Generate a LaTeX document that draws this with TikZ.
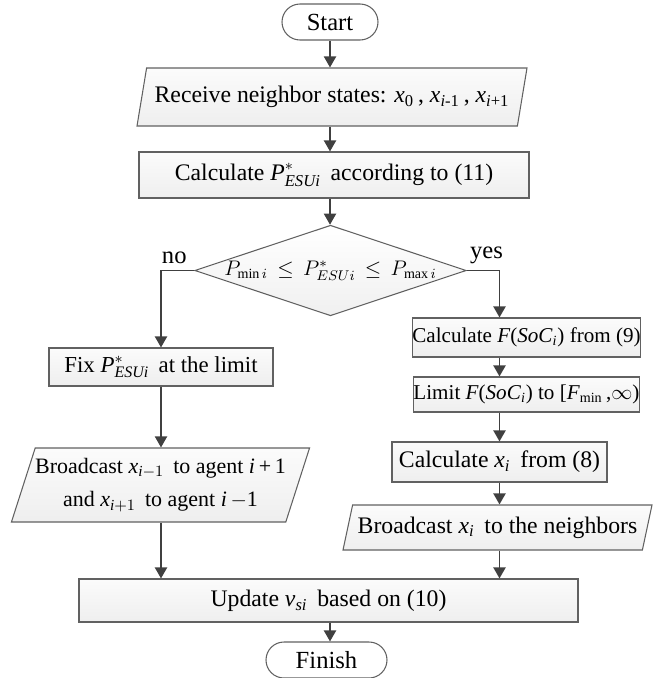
\documentclass[tikz,border=0pt]{standalone}
\usepackage{amsmath}
\usepackage{fontspec}
\setmainfont{Liberation Serif}
\usetikzlibrary{shapes.geometric,shapes.misc,arrows.meta}

\newcommand{\pesu}{$\textit{P}^{*}_{\textit{ESUi}}$\,}
\newcommand{\vsub}[2]{\textit{#1}$_{\text{#2}}$}

\begin{document}
\begin{tikzpicture}[font=\fontsize{13}{15}\selectfont,
  line/.style={draw=black!75, line width=1.1pt, -{Triangle[length=2.2mm,width=2.4mm]}},
  proc/.style={rectangle, draw=black!62, line width=0.6pt, top color=gray!3, bottom color=gray!13, inner sep=0pt},
  io/.style={proc, trapezium, trapezium left angle=66, trapezium right angle=114, trapezium stretches body},
  term/.style={rounded rectangle, draw=black!62, line width=0.6pt, fill=white, inner sep=0pt, font=\fontsize{14}{16}\selectfont},
  dec/.style={diamond, draw=black!62, line width=0.6pt, top color=white, bottom color=gray!12, inner sep=0pt, aspect=3},
  small/.style={font=\fontsize{12}{14}\selectfont}]
\useasboundingbox (0,0) rectangle (13.1,-13.56);

\node[term, minimum width=1.92cm, minimum height=0.72cm] (start) at (6.6,-0.44) {Start};
\node[io, minimum width=7.8cm, minimum height=1.16cm, font=\fontsize{13.5}{16}\selectfont] (recv) at (6.64,-1.94)
  {Receive neighbor states: \vsub{x}{0}\,, \vsub{x}{\textit{i}-1}\,, \vsub{x}{\textit{i}+1}};
\node[proc, minimum width=7.8cm, minimum height=0.92cm, font=\fontsize{13.5}{16}\selectfont] (calc) at (6.68,-3.5)
  {Calculate \pesu{} according to (11)};
\node[dec, small, minimum width=5.3cm, minimum height=1.78cm] (cond) at (6.61,-5.41)
  {$P_{\min i}\,\le\,P^{*}_{ESUi}\,\le\,P_{\max i}$};

\node[proc, minimum width=4.48cm, minimum height=0.76cm] (fix) at (3.22,-7.34) {Fix \pesu{} at the limit};
\node[io, minimum width=5.9cm, minimum height=1.48cm, align=center, font=\fontsize{12.5}{19}\selectfont] (bcl) at (3.21,-9.7)
  {Broadcast \textit{x}$_{\textit{i}-1}$\, to agent \textit{i}\,+\,1\\ and \textit{x}$_{\textit{i}+1}$\, to agent \textit{i}\,$-$1};

\node[proc, small, minimum width=4.46cm, minimum height=0.78cm] (calcf) at (10.53,-6.75) {Calculate \textit{F}(\textit{SoC}$_{\textit{i}}$) from (9)};
\node[proc, small, minimum width=4.46cm, minimum height=0.7cm] (limf) at (10.53,-7.89) {Limit \textit{F}(\textit{SoC}$_{\textit{i}}$) to [\vsub{F}{min}\,,$\infty$)};
\node[proc, minimum width=4.3cm, minimum height=0.8cm, font=\fontsize{13.5}{16}\selectfont] (calcx) at (9.99,-9.24) {Calculate \textit{x}$_{\textit{i}}$\, from (8)};
\node[io, minimum width=6.18cm, minimum height=0.9cm, font=\fontsize{13.5}{16}\selectfont] (bcr) at (9.95,-10.55) {Broadcast \textit{x}$_{\textit{i}}$\, to the neighbors};

\node[proc, minimum width=9.98cm, minimum height=0.86cm, font=\fontsize{13.5}{16}\selectfont] (upd) at (6.57,-12.01) {Update \textit{v}$_{\textit{si}}$\, based on (10)};
\node[term, minimum width=2.42cm, minimum height=0.72cm] (fin) at (6.53,-13.2) {Finish};

\draw[line] (start.south) -- (start.south |- recv.north);
\draw[line] (recv.south -| start) -- (calc.north -| start);
\draw[line] (calc.south -| start) -- (cond.north -| start);
\draw[line] (cond.west) -| node[pos=0.3, above, black, font=\fontsize{14}{16}\selectfont] {no} (fix.north);
\draw[line] (cond.east) -| node[pos=0.3, above, black, font=\fontsize{14}{16}\selectfont] {yes} (calcf.north -| calcx);
\draw[line] (calcf.south -| calcx) -- (limf.north -| calcx);
\draw[line] (limf.south -| calcx) -- (calcx.north);
\draw[line] (calcx.south) -- (calcx.south |- bcr.north);
\draw[line] (bcr.south -| calcx) -- (upd.north -| calcx);
\draw[line] (fix.south) -- (fix.south |- bcl.north);
\draw[line] (bcl.south -| fix) -- (upd.north -| fix);
\draw[line] (upd.south -| start) -- (fin.north -| start);
\end{tikzpicture}
\end{document}
